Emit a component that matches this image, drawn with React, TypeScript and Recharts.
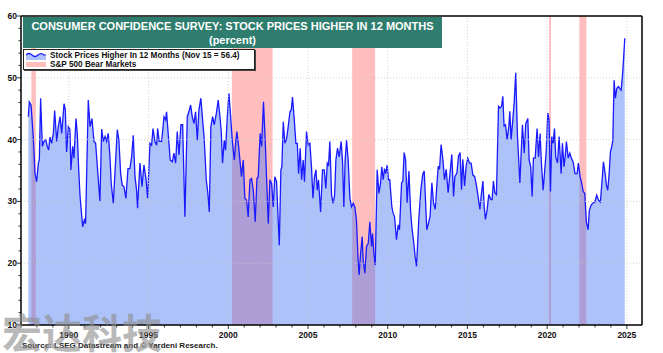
import { ComposedChart, Area, XAxis, YAxis, ReferenceArea, ReferenceLine } from 'recharts'

// Conference Board: % expecting stock prices higher in 12 months (~monthly)
const dates = [
  1987.46, 1987.52, 1987.63, 1987.77, 1987.88, 1987.98, 1988.09, 1988.15, 1988.23, 1988.34,
  1988.44, 1988.55, 1988.65, 1988.73, 1988.82, 1988.92, 1989.03, 1989.11, 1989.24, 1989.34,
  1989.45, 1989.55, 1989.70, 1989.78, 1989.86, 1989.97, 1990.07, 1990.13, 1990.24, 1990.32,
  1990.45, 1990.53, 1990.62, 1990.70, 1990.76, 1990.87, 1990.97, 1991.05, 1991.22, 1991.33,
  1991.45, 1991.58, 1991.68, 1991.79, 1991.95, 1992.06, 1992.16, 1992.27, 1992.37, 1992.47,
  1992.58, 1992.66, 1992.79, 1992.89, 1993.04, 1993.14, 1993.25, 1993.35, 1993.46, 1993.58,
  1993.71, 1993.83, 1993.94, 1994.04, 1994.15, 1994.25, 1994.31, 1994.46, 1994.59, 1994.71,
  1994.84, 1994.94, 1995.09, 1995.19, 1995.28, 1995.40, 1995.51, 1995.57, 1995.67, 1995.82,
  1995.97, 1996.07, 1996.13, 1996.24, 1996.36, 1996.49, 1996.59, 1996.70, 1996.80, 1996.91,
  1997.03, 1997.14, 1997.28, 1997.43, 1997.53, 1997.64, 1997.74, 1997.85, 1997.95, 1998.06,
  1998.16, 1998.28, 1998.39, 1998.49, 1998.62, 1998.72, 1998.81, 1998.91, 1999.02, 1999.12,
  1999.25, 1999.37, 1999.48, 1999.56, 1999.64, 1999.75, 1999.83, 1999.94, 2000.04, 2000.15,
  2000.25, 2000.38, 2000.46, 2000.54, 2000.65, 2000.73, 2000.83, 2000.94, 2001.04, 2001.15,
  2001.25, 2001.36, 2001.46, 2001.57, 2001.69, 2001.80, 2001.88, 2002.00, 2002.09, 2002.21,
  2002.32, 2002.40, 2002.51, 2002.61, 2002.72, 2002.82, 2002.92, 2003.03, 2003.13, 2003.20,
  2003.30, 2003.36, 2003.45, 2003.55, 2003.66, 2003.76, 2003.87, 2003.95, 2004.03, 2004.14,
  2004.24, 2004.33, 2004.41, 2004.51, 2004.60, 2004.70, 2004.78, 2004.91, 2005.01, 2005.12,
  2005.22, 2005.31, 2005.41, 2005.50, 2005.58, 2005.66, 2005.79, 2005.91, 2006.02, 2006.12,
  2006.21, 2006.29, 2006.37, 2006.48, 2006.58, 2006.67, 2006.75, 2006.85, 2006.96, 2007.08,
  2007.17, 2007.25, 2007.33, 2007.42, 2007.52, 2007.63, 2007.73, 2007.84, 2007.94, 2008.04,
  2008.15, 2008.21, 2008.30, 2008.40, 2008.46, 2008.57, 2008.67, 2008.78, 2008.88, 2008.99,
  2009.05, 2009.13, 2009.22, 2009.34, 2009.45, 2009.55, 2009.63, 2009.72, 2009.80, 2009.88,
  2009.97, 2010.05, 2010.13, 2010.26, 2010.34, 2010.43, 2010.55, 2010.66, 2010.74, 2010.87,
  2010.95, 2011.03, 2011.12, 2011.22, 2011.33, 2011.43, 2011.51, 2011.62, 2011.72, 2011.81,
  2011.95, 2012.08, 2012.20, 2012.29, 2012.37, 2012.45, 2012.56, 2012.66, 2012.77, 2012.87,
  2012.98, 2013.08, 2013.17, 2013.25, 2013.35, 2013.46, 2013.56, 2013.67, 2013.79, 2013.92,
  2014.02, 2014.13, 2014.21, 2014.34, 2014.44, 2014.54, 2014.63, 2014.71, 2014.82, 2014.92,
  2015.02, 2015.13, 2015.23, 2015.34, 2015.46, 2015.57, 2015.67, 2015.78, 2015.86, 2015.97,
  2016.05, 2016.13, 2016.24, 2016.34, 2016.47, 2016.55, 2016.63, 2016.72, 2016.82, 2016.95,
  2017.05, 2017.14, 2017.22, 2017.30, 2017.39, 2017.49, 2017.60, 2017.66, 2017.74, 2017.83,
  2017.93, 2018.03, 2018.14, 2018.29, 2018.45, 2018.56, 2018.66, 2018.79, 2018.87, 2018.97,
  2019.06, 2019.14, 2019.25, 2019.37, 2019.46, 2019.56, 2019.64, 2019.75, 2019.85, 2019.94,
  2020.04, 2020.12, 2020.21, 2020.29, 2020.38, 2020.46, 2020.54, 2020.65, 2020.75, 2020.88,
  2020.96, 2021.06, 2021.13, 2021.21, 2021.32, 2021.42, 2021.52, 2021.63, 2021.75, 2021.88,
  2021.96, 2022.07, 2022.17, 2022.26, 2022.36, 2022.46, 2022.57, 2022.65, 2022.76, 2022.86,
  2022.99, 2023.11, 2023.22, 2023.34, 2023.45, 2023.53, 2023.64, 2023.72, 2023.80, 2023.89,
  2023.97, 2024.05, 2024.12, 2024.20, 2024.28, 2024.37, 2024.47, 2024.55, 2024.64, 2024.72,
  2024.79, 2024.87,
]

const stocksHigher = [
  43.7, 46.1, 45.6, 40.5, 34.5, 33.2, 36.2, 36.7, 46.7, 38.9,
  39.7, 40.0, 38.9, 38.3, 40.4, 39.4, 41.0, 44.7, 39.7, 42.1,
  43.7, 41.0, 45.8, 44.8, 38.0, 42.1, 41.6, 35.1, 38.9, 37.0,
  43.4, 41.0, 35.1, 31.0, 29.1, 25.9, 27.0, 26.4, 46.4, 42.1,
  43.4, 39.7, 39.4, 35.6, 30.0, 41.7, 39.7, 40.5, 39.7, 41.0,
  37.2, 32.9, 29.7, 34.5, 41.6, 39.9, 34.5, 32.6, 32.4, 30.5,
  35.3, 35.3, 37.2, 40.7, 34.0, 31.8, 28.9, 36.2, 32.4, 35.9,
  33.7, 30.5, 39.4, 39.1, 41.8, 39.7, 39.1, 41.8, 39.7, 39.7,
  43.7, 43.2, 44.5, 40.7, 36.7, 36.4, 37.8, 36.2, 41.3, 37.5,
  42.4, 42.4, 27.5, 43.7, 44.5, 45.6, 43.7, 42.6, 44.5, 39.9,
  44.8, 46.7, 43.2, 40.2, 33.5, 31.3, 28.3, 42.1, 43.7, 42.4,
  44.2, 46.4, 43.7, 41.3, 36.2, 39.9, 38.3, 43.7, 47.5, 43.7,
  39.9, 36.7, 39.4, 41.3, 38.9, 36.7, 34.0, 36.7, 30.5, 30.2,
  27.5, 33.5, 33.7, 31.8, 26.7, 33.7, 34.0, 41.0, 38.9, 46.1,
  39.7, 34.0, 26.4, 33.5, 32.9, 29.1, 34.0, 33.2, 27.0, 22.9,
  35.1, 35.6, 42.9, 39.4, 40.2, 42.1, 44.5, 44.8, 46.9, 43.2,
  39.4, 39.4, 34.5, 38.6, 33.5, 36.7, 33.2, 41.3, 39.1, 39.4,
  35.6, 30.5, 34.0, 35.1, 31.8, 33.5, 28.3, 35.1, 35.1, 32.1,
  36.2, 35.9, 39.7, 31.0, 29.7, 31.0, 36.7, 38.6, 37.2, 39.7,
  36.4, 29.1, 36.7, 39.9, 36.7, 30.5, 29.1, 29.7, 29.1, 27.0,
  20.2, 18.1, 21.6, 24.3, 20.5, 18.4, 22.7, 23.2, 26.7, 22.7,
  24.8, 21.6, 19.7, 35.1, 31.3, 32.9, 35.6, 33.5, 35.3, 34.5,
  35.9, 33.5, 33.5, 29.1, 28.1, 27.5, 23.8, 26.2, 25.4, 33.0,
  33.3, 37.9, 36.8, 29.8, 34.9, 28.7, 26.0, 23.6, 21.1, 19.5,
  27.1, 31.9, 34.4, 34.9, 30.3, 25.4, 26.5, 27.6, 33.0, 29.8,
  28.7, 32.5, 35.7, 35.2, 39.2, 36.8, 33.5, 35.2, 31.4, 34.9,
  37.6, 30.8, 34.0, 34.6, 37.3, 37.9, 31.9, 36.8, 32.5, 35.7,
  37.0, 36.2, 36.2, 34.3, 34.0, 32.5, 30.8, 28.7, 30.8, 33.3,
  29.2, 27.1, 28.7, 31.1, 30.3, 30.3, 33.3, 31.4, 31.1, 45.4,
  45.1, 45.4, 47.0, 42.2, 42.4, 40.0, 42.2, 44.6, 40.0, 42.7,
  45.9, 50.8, 40.5, 33.0, 42.4, 37.8, 42.6, 43.4, 36.7, 35.6,
  30.8, 37.0, 37.0, 41.8, 37.2, 41.0, 36.2, 31.8, 35.1, 38.0,
  44.3, 43.2, 31.6, 40.5, 39.4, 41.8, 37.2, 36.2, 40.5, 34.5,
  39.4, 35.6, 37.2, 39.7, 37.0, 37.8, 37.0, 36.4, 34.5, 34.5,
  36.2, 34.0, 32.9, 31.6, 31.3, 26.7, 25.4, 28.6, 29.4, 29.7,
  29.9, 31.0, 30.2, 29.9, 33.5, 36.4, 34.5, 32.6, 31.8, 34.5,
  38.0, 38.8, 39.9, 49.6, 46.7, 48.3, 48.6, 48.3, 48.0, 50.2,
  52.9, 56.4,
]

// S&P 500 bear markets
const bearStarts = [1987.65, 2000.23, 2007.77, 2020.12, 2022.02]
const bearEnds = [1987.93, 2002.78, 2009.21, 2020.24, 2022.46]

const yearTicks = Array.from({ length: 39 }, (_, i) => 1987 + i)
const valueTicks = Array.from({ length: 26 }, (_, i) => 10 + i * 2)
const gridYears = [1990, 1995, 2000, 2005, 2010, 2015, 2020, 2025]
const gridValues = [20, 30, 40, 50]

const FONT = 'Arial, "Liberation Sans", Helvetica, sans-serif'
const PLOT_LEFT = 21
const PLOT_RIGHT = 642
const PLOT_BOTTOM = 325

const data = dates.map((t, i) => ({ t, v: stocksHigher[i] }))

const XTick = (props: any) => {
  const { x, payload } = props
  const major = payload.value % 5 === 0
  return (
    <g>
      <line x1={x} x2={x} y1={PLOT_BOTTOM} y2={PLOT_BOTTOM + (major ? 4 : 2.5)} stroke="#000" strokeWidth={0.8} />
      {major && (
        <text x={x} y={338} textAnchor="middle" fontSize={8.5} fontWeight="bold" fill="#111" fontFamily={FONT}>
          {payload.value}
        </text>
      )}
    </g>
  )
}

const makeYTick = (side: 'left' | 'right') => (props: any) => {
  const { y, payload } = props
  const major = payload.value % 10 === 0
  const len = major ? 4 : 2.5
  const ax = side === 'left' ? PLOT_LEFT : PLOT_RIGHT
  const x2 = side === 'left' ? ax - len : ax + len
  return (
    <g>
      <line x1={ax} x2={x2} y1={y} y2={y} stroke="#000" strokeWidth={0.8} />
      {major && (
        <text
          x={side === 'left' ? 17 : 647}
          y={y + 3}
          textAnchor={side === 'left' ? 'end' : 'start'}
          fontSize={8.5}
          fontWeight="bold"
          fill="#111"
          fontFamily={FONT}
        >
          {payload.value}
        </text>
      )}
    </g>
  )
}

export default function App() {
  return (
    <div style={{ position: 'fixed', left: 0, top: 0, width: 663, height: 353, background: '#fff', fontFamily: FONT, overflow: 'hidden' }}>
      <ComposedChart width={663} height={353} data={data} margin={{ top: 16, right: 0, bottom: 0, left: 0 }}>
        <XAxis
          dataKey="t"
          type="number"
          domain={[1987, 2025.95]}
          ticks={yearTicks}
          interval={0}
          height={28}
          tick={<XTick />}
          tickLine={false}
          axisLine={{ stroke: '#000', strokeWidth: 1.5 }}
          allowDataOverflow
        />
        <YAxis
          yAxisId="l"
          domain={[10, 60]}
          ticks={valueTicks}
          interval={0}
          width={21}
          tick={makeYTick('left')}
          tickLine={false}
          axisLine={{ stroke: '#000', strokeWidth: 1.5 }}
        />
        <YAxis
          yAxisId="r"
          orientation="right"
          domain={[10, 60]}
          ticks={valueTicks}
          interval={0}
          width={21}
          tick={makeYTick('right')}
          tickLine={false}
          axisLine={{ stroke: '#000', strokeWidth: 1.5 }}
        />
        {bearStarts.map((s, i) => (
          <ReferenceArea key={`bear-${i}`} yAxisId="l" x1={s} x2={bearEnds[i]} y1={10} y2={60} fill="#ffbdbd" fillOpacity={1} stroke="none" />
        ))}
        <Area
          yAxisId="l"
          type="linear"
          dataKey="v"
          stroke="#1a1aff"
          strokeWidth={1.3}
          fill="#4b78f4"
          fillOpacity={0.45}
          dot={false}
          activeDot={false}
          isAnimationActive={false}
        />
        {gridValues.map((v) => (
          <ReferenceLine key={`gy-${v}`} yAxisId="l" y={v} stroke="#c8c8c8" strokeDasharray="1 2" strokeWidth={0.8} />
        ))}
        {gridYears.map((yr) => (
          <ReferenceLine key={`gx-${yr}`} yAxisId="l" x={yr} stroke="#c8c8c8" strokeDasharray="1 2" strokeWidth={0.8} />
        ))}
        <ReferenceLine yAxisId="l" y={60} stroke="#000" strokeWidth={1.5} />
      </ComposedChart>

      {/* title */}
      <div
        style={{
          position: 'absolute', left: 23, top: 17, width: 419, height: 31, background: '#2e7d6e',
          color: '#fff', fontWeight: 'bold', fontSize: 11, lineHeight: '14px', textAlign: 'center', paddingTop: 2,
          boxSizing: 'border-box',
        }}
      >
        CONSUMER CONFIDENCE SURVEY: STOCK PRICES HIGHER IN 12 MONTHS
        <br />
        (percent)
      </div>

      {/* legend */}
      <div
        style={{
          position: 'absolute', left: 23, top: 49, width: 232, height: 21, background: '#fff',
          border: '1px solid #222', boxShadow: '1px 1px 0 #444', boxSizing: 'border-box',
          fontSize: 8.2, fontWeight: 'bold', color: '#111', lineHeight: '9px',
        }}
      >
        <div style={{ position: 'absolute', left: 2, top: 1, display: 'flex', alignItems: 'center' }}>
          <svg width={20} height={8}>
            <path d="M0,3 Q3,0 6,3 T12,3 T18,3 L20,3 L20,8 L0,8 Z" fill="#aec1f8" />
            <path d="M0,3 Q3,0 6,3 T12,3 T18,3 L20,3" fill="none" stroke="#1a1aff" strokeWidth={1.2} />
          </svg>
          <span style={{ marginLeft: 4 }}>Stock Prices Higher In 12 Months (Nov 15 = 56.4)</span>
        </div>
        <div style={{ position: 'absolute', left: 2, top: 10, display: 'flex', alignItems: 'center' }}>
          <span style={{ display: 'inline-block', width: 20, height: 5, background: '#ffbdbd' }} />
          <span style={{ marginLeft: 4 }}>S&amp;P 500 Bear Markets</span>
        </div>
      </div>

      {/* source */}
      <div style={{ position: 'absolute', left: 22, top: 341, fontSize: 8, fontWeight: 'bold', color: '#222', whiteSpace: 'nowrap' }}>
        Source: LSEG Datastream and © Yardeni Research.
      </div>

      {/* watermark */}
      <div
        style={{
          position: 'absolute', left: 2, top: 307, fontSize: 40, fontWeight: 'bold', color: '#8c8c8c', opacity: 0.6,
          fontFamily: '"Noto Sans CJK SC", sans-serif', lineHeight: '48px', whiteSpace: 'nowrap',
        }}
      >
        宏达科技
      </div>
    </div>
  )
}
